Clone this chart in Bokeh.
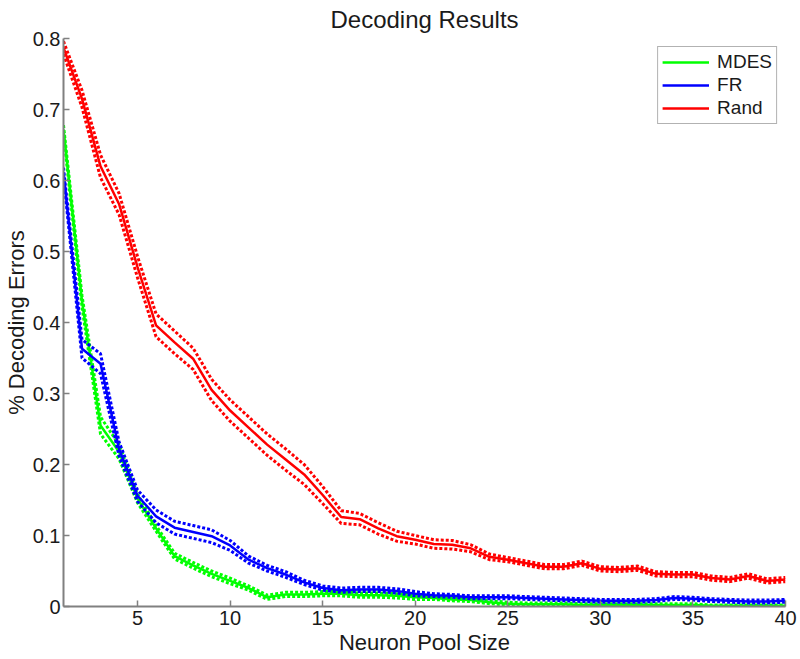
from bokeh.plotting import figure
from bokeh.models import Range1d, FixedTicker
from bokeh.embed import file_html
from bokeh.resources import INLINE

pool_size = list(range(1, 41))

mdes_mean = [0.672, 0.430, 0.255, 0.218, 0.152, 0.110, 0.071, 0.058, 0.046, 0.036,
             0.026, 0.013, 0.017, 0.017, 0.018, 0.018, 0.016, 0.016, 0.015, 0.013,
             0.012, 0.010, 0.009, 0.006, 0.004, 0.003, 0.003, 0.003, 0.002, 0.002,
             0.002, 0.002, 0.002, 0.002, 0.002, 0.001, 0.001, 0.001, 0.001, 0.001]
mdes_half = [0.006, 0.008, 0.012, 0.010, 0.006, 0.004, 0.004, 0.004, 0.004, 0.004,
             0.003, 0.003, 0.003, 0.003, 0.003, 0.003, 0.003, 0.003, 0.003, 0.003,
             0.002, 0.002, 0.002, 0.002, 0.002, 0.002, 0.002, 0.002, 0.002, 0.002,
             0.002, 0.002, 0.002, 0.002, 0.002, 0.001, 0.001, 0.001, 0.001, 0.001]

fr_mean = [0.612, 0.363, 0.342, 0.222, 0.156, 0.127, 0.111, 0.105, 0.099, 0.086,
           0.066, 0.054, 0.045, 0.034, 0.026, 0.023, 0.024, 0.024, 0.022, 0.018,
           0.016, 0.015, 0.013, 0.013, 0.013, 0.012, 0.011, 0.010, 0.009, 0.008,
           0.008, 0.008, 0.009, 0.012, 0.011, 0.009, 0.008, 0.007, 0.007, 0.008]
fr_half = [0.006, 0.013, 0.014, 0.010, 0.008, 0.009, 0.009, 0.009, 0.009, 0.007,
           0.005, 0.004, 0.004, 0.003, 0.003, 0.003, 0.003, 0.003, 0.003, 0.003,
           0.002, 0.002, 0.002, 0.002, 0.002, 0.002, 0.002, 0.002, 0.002, 0.002,
           0.002, 0.002, 0.002, 0.002, 0.002, 0.002, 0.002, 0.002, 0.002, 0.002]

rand_mean = [0.787, 0.715, 0.620, 0.567, 0.478, 0.396, 0.372, 0.349, 0.305, 0.276,
             0.252, 0.228, 0.207, 0.186, 0.157, 0.126, 0.123, 0.110, 0.099, 0.094,
             0.088, 0.087, 0.082, 0.070, 0.066, 0.061, 0.056, 0.056, 0.061, 0.053,
             0.052, 0.054, 0.046, 0.045, 0.045, 0.040, 0.038, 0.043, 0.036, 0.038]
rand_half = [0.009, 0.012, 0.016, 0.015, 0.015, 0.016, 0.016, 0.015, 0.015, 0.015,
             0.015, 0.015, 0.015, 0.014, 0.012, 0.009, 0.008, 0.008, 0.007, 0.006,
             0.006, 0.006, 0.005, 0.004, 0.003, 0.003, 0.003, 0.003, 0.003, 0.003,
             0.003, 0.003, 0.003, 0.003, 0.003, 0.003, 0.003, 0.003, 0.003, 0.003]

series_names = ["MDES", "FR", "Rand"]
series_colors = ["#00ff00", "#0000ff", "#ff0000"]

x_ticks = [5, 10, 15, 20, 25, 30, 35, 40]
y_ticks = [0, 0.1, 0.2, 0.3, 0.4, 0.5, 0.6, 0.7, 0.8]
y_tick_labels = ["0", "0.1", "0.2", "0.3", "0.4", "0.5", "0.6", "0.7", "0.8"]

FONT = "Liberation Sans"
TEXT = "#1a1a1a"
AXIS = "#808080"

p = figure(width=800, height=659, output_backend="svg", toolbar_location=None,
           x_range=Range1d(1, 40), y_range=Range1d(0, 0.8),
           min_border_left=63, min_border_right=15, min_border_top=38,
           min_border_bottom=53, title="Decoding Results")

p.title.text_font = FONT
p.title.text_font_size = "24px"
p.title.text_font_style = "normal"
p.title.text_color = TEXT
p.title.align = "center"
p.title.vertical_align = "top"
p.title.standoff = 8

p.outline_line_color = None
p.xgrid.visible = False
p.ygrid.visible = False

p.xaxis.ticker = FixedTicker(ticks=x_ticks)
p.yaxis.ticker = FixedTicker(ticks=y_ticks)
p.yaxis.major_label_overrides = dict(zip(y_ticks, y_tick_labels))

p.xaxis.axis_label = "Neuron Pool Size"
p.yaxis.axis_label = "% Decoding Errors"

for ax in (p.xaxis[0], p.yaxis[0]):
    ax.axis_line_color = AXIS
    ax.axis_line_width = 2
    ax.major_tick_line_color = AXIS
    ax.major_tick_line_width = 1.5
    ax.major_tick_in = 6
    ax.major_tick_out = 0
    ax.minor_tick_line_color = None
    ax.major_label_text_font = FONT
    ax.major_label_text_font_size = "20px"
    ax.major_label_text_color = TEXT
    ax.axis_label_text_font = FONT
    ax.axis_label_text_font_size = "22px"
    ax.axis_label_text_font_style = "normal"
    ax.axis_label_text_color = TEXT

p.xaxis.major_label_standoff = 4
p.xaxis.axis_label_standoff = 2
p.yaxis.major_label_standoff = 3
p.yaxis.axis_label_standoff = 1

all_means = [mdes_mean, fr_mean, rand_mean]
all_halves = [mdes_half, fr_half, rand_half]

for name, color, mean, half in zip(series_names, series_colors, all_means, all_halves):
    lower = [m - h for m, h in zip(mean, half)]
    upper = [m + h for m, h in zip(mean, half)]
    p.line(pool_size, lower, line_color=color, line_width=3, line_dash="3 2")
    p.line(pool_size, upper, line_color=color, line_width=3, line_dash="3 2")
    p.line(pool_size, mean, line_color=color, line_width=2.5, legend_label=name)

lg = p.legend[0]
lg.location = "top_right"
lg.margin = 8
lg.padding = 4
lg.spacing = 1
lg.glyph_width = 47
lg.glyph_height = 22
lg.label_height = 22
lg.label_standoff = 8
lg.label_text_font = FONT
lg.label_text_font_size = "19px"
lg.label_text_color = TEXT
lg.border_line_color = "#666666"
lg.border_line_width = 1.5
lg.background_fill_alpha = 1.0

open("out.html", "w").write(file_html(p, INLINE))
